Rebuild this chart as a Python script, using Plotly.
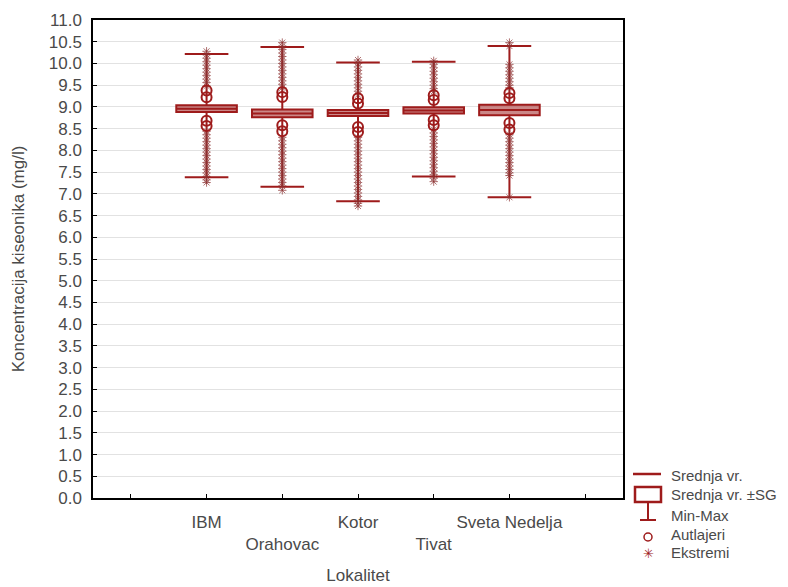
import plotly.graph_objects as go

# Sites and summary statistics of dissolved oxygen (mg/l)
sites = ["IBM", "Orahovac", "Kotor", "Tivat", "Sveta Nedelja"]
means = [8.96, 8.85, 8.86, 8.92, 8.93]
sd = [0.08, 0.09, 0.07, 0.07, 0.12]
mins = [7.38, 7.16, 6.83, 7.40, 6.92]
maxs = [10.22, 10.38, 10.02, 10.04, 10.40]

# Outliers (circles) per site
outliers = [
    [9.38, 9.22, 8.68, 8.56],
    [9.34, 9.23, 8.58, 8.44],
    [9.20, 9.08, 8.54, 8.42],
    [9.27, 9.16, 8.70, 8.58],
    [9.32, 9.20, 8.63, 8.48],
]

# Extremes (asterisks) per site
extremes = [
    [10.28, 10.20, 10.12, 10.04, 9.96, 9.88, 9.80, 9.72, 9.64, 9.56, 9.48,
     8.44, 8.36, 8.28, 8.20, 8.12, 8.04, 7.96, 7.88, 7.80, 7.72, 7.64,
     7.56, 7.48, 7.40, 7.32, 7.26],
    [10.48, 10.40, 10.32, 10.24, 10.16, 10.08, 10.00, 9.92, 9.84, 9.76,
     9.68, 9.60, 9.52, 9.44, 8.30, 8.22, 8.14, 8.06, 7.98, 7.90, 7.82,
     7.74, 7.66, 7.58, 7.50, 7.42, 7.34, 7.26, 7.18, 7.08],
    [10.08, 10.00, 9.92, 9.84, 9.76, 9.68, 9.60, 9.52, 9.44, 9.36, 9.28,
     8.30, 8.22, 8.14, 8.06, 7.98, 7.90, 7.82, 7.74, 7.66, 7.58, 7.50,
     7.42, 7.34, 7.26, 7.18, 7.10, 7.02, 6.94, 6.86, 6.78, 6.72],
    [10.06, 9.98, 9.90, 9.82, 9.74, 9.66, 9.58, 9.50, 9.42, 9.36,
     8.48, 8.40, 8.32, 8.24, 8.16, 8.08, 8.00, 7.92, 7.84, 7.76, 7.68,
     7.60, 7.52, 7.44, 7.36, 7.28],
    [10.48, 10.40, 9.98, 9.90, 9.82, 9.74, 9.66, 9.58, 9.50, 9.44,
     8.36, 8.28, 8.20, 8.12, 8.04, 7.96, 7.88, 7.80, 7.72, 7.64, 7.56,
     7.48, 7.42, 6.92],
]

yticks = [i * 0.5 for i in range(23)]
ytick_labels = [f"{v:.1f}" for v in yticks]

RED = "#9e1b1b"
STAR = "rgba(140,50,50,0.7)"
TXT = "#4a4a4a"
FONT = "Liberation Sans, Arial, sans-serif"

fig = go.Figure()

for i, site in enumerate(sites):
    fig.add_trace(go.Scatter(
        x=[i] * len(extremes[i]), y=extremes[i], mode="markers",
        marker=dict(symbol="asterisk-open", size=7, color=STAR,
                    line=dict(color=STAR, width=1)),
        showlegend=False, hoverinfo="y"))
    fig.add_trace(go.Scatter(
        x=[i] * len(outliers[i]), y=outliers[i], mode="markers",
        marker=dict(symbol="circle-open", size=10, color=RED,
                    line=dict(color=RED, width=2)),
        showlegend=False, hoverinfo="y"))
    fig.add_trace(go.Box(
        x=[i], q1=[means[i] - sd[i]], median=[means[i]],
        q3=[means[i] + sd[i]], lowerfence=[mins[i]], upperfence=[maxs[i]],
        width=0.8, whiskerwidth=0.72, boxpoints=False,
        line=dict(color=RED, width=2), fillcolor="rgba(175,70,70,0.65)",
        showlegend=False, name=site))

# Legend key drawn beside the plot area
def px(xp):
    return (xp - 93) / 530

def py(yp):
    return (498 - yp) / 478

shapes = [
    dict(type="line", xref="paper", yref="paper", x0=px(633), x1=px(661),
         y0=py(474), y1=py(474), line=dict(color=RED, width=2.5)),
    dict(type="rect", xref="paper", yref="paper", x0=px(635), x1=px(661),
         y0=py(487), y1=py(502), line=dict(color=RED, width=2.5),
         fillcolor="white"),
    dict(type="line", xref="paper", yref="paper", x0=px(648), x1=px(648),
         y0=py(502), y1=py(520), line=dict(color=RED, width=2)),
    dict(type="line", xref="paper", yref="paper", x0=px(640), x1=px(656),
         y0=py(520), y1=py(520), line=dict(color=RED, width=2)),
    dict(type="circle", xref="paper", yref="paper", x0=px(644), x1=px(652),
         y0=py(533), y1=py(541), line=dict(color=RED, width=1.5)),
]

legend_items = ["Srednja vr.", "Srednja vr. \u00b1SG", "Min-Max", "Autlajeri", "Ekstremi"]
legend_y = [475, 494, 515, 534, 552]
annotations = [
    dict(text=t, xref="paper", yref="paper", x=px(669), y=py(yy),
         xanchor="left", yanchor="middle", showarrow=False,
         font=dict(size=15, color=TXT, family=FONT))
    for t, yy in zip(legend_items, legend_y)
]
annotations.append(dict(text="\u2733", xref="paper", yref="paper", x=px(648), y=py(553),
                        xanchor="center", yanchor="middle", showarrow=False,
                        font=dict(size=13, color=RED, family="DejaVu Sans")))

xtick_vals = list(range(-1, 6))
xtick_text = [""] + [s if k % 2 == 0 else "<br>" + s for k, s in enumerate(sites)] + [""]

fig.update_layout(
    width=788, height=587,
    margin=dict(l=93, r=165, t=20, b=89),
    paper_bgcolor="white", plot_bgcolor="white",
    font=dict(family=FONT, size=17, color=TXT),
    shapes=shapes, annotations=annotations,
    showlegend=False,
    xaxis=dict(
        range=[-1.5, 5.5], tickmode="array", tickvals=xtick_vals,
        ticktext=xtick_text, ticks="inside", ticklen=4, tickcolor="black",
        showline=True, linecolor="black", linewidth=1.5, mirror=True,
        showgrid=False, zeroline=False, ticklabelstandoff=8, automargin=False,
        title=dict(text="Lokalitet", standoff=16, font=dict(size=17)),
        tickfont=dict(size=17),
    ),
    yaxis=dict(
        range=[0, 11], tickmode="array", tickvals=yticks, ticktext=ytick_labels,
        ticks="inside", ticklen=4, tickcolor="black",
        showline=True, linecolor="black", linewidth=1.5, mirror=True,
        showgrid=True, gridcolor="#e2e2e2", gridwidth=1, zeroline=False,
        ticklabelstandoff=6, automargin=False,
        title=dict(text="Koncentracija kiseonika (mg/l)", standoff=20,
                   font=dict(size=17)),
        tickfont=dict(size=17),
    ),
)

fig.write_html("out.html")
